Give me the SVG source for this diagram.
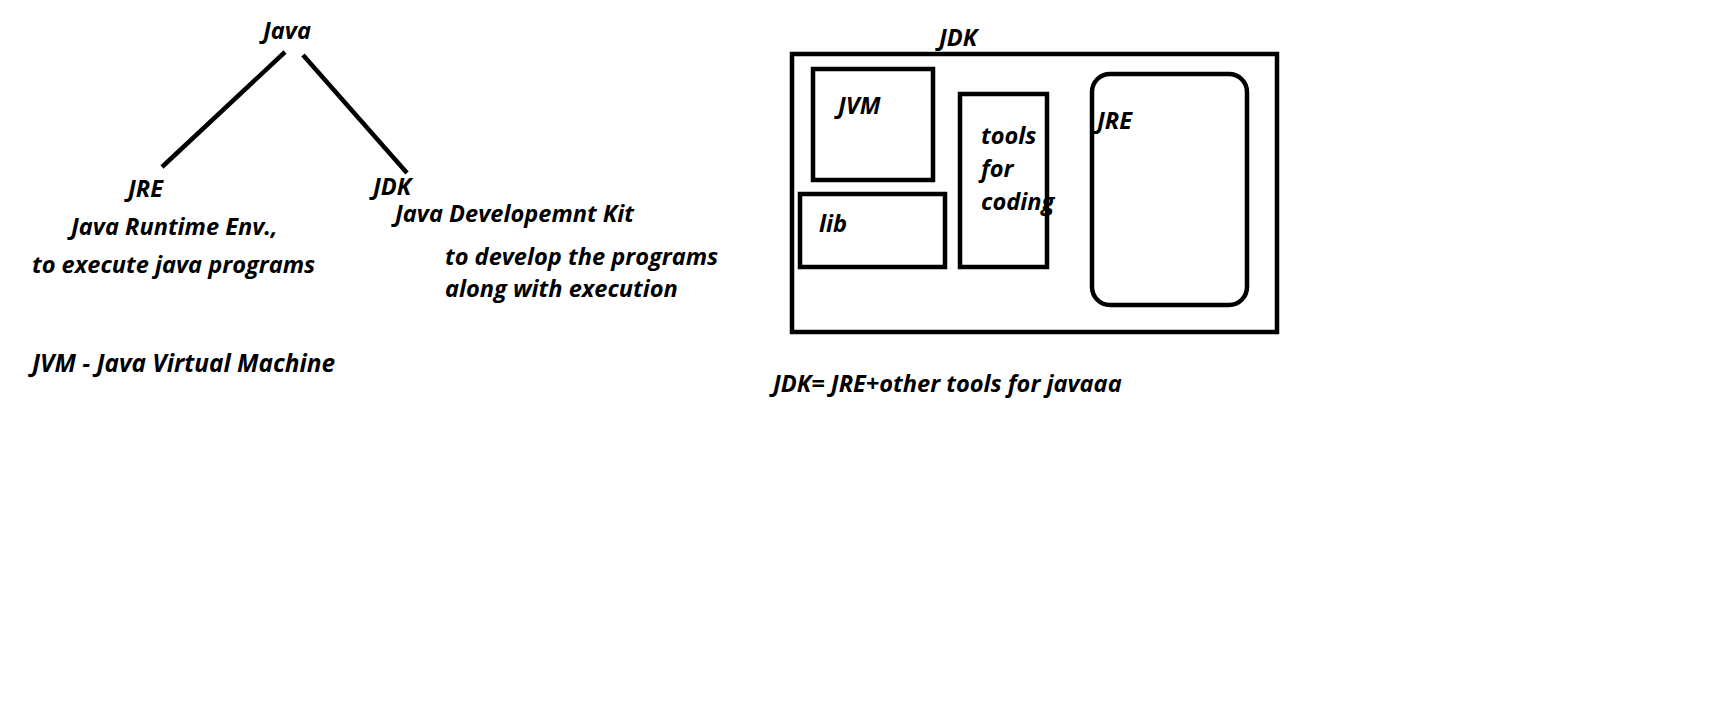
<svg xmlns="http://www.w3.org/2000/svg" width="1732" height="720" viewBox="0 0 1732 720">
<style>
text{font-family:"Open Sans","Noto Sans","DejaVu Sans",sans-serif;font-weight:bold;font-style:italic;font-size:23.6px;fill:#000}
.big{font-size:24.4px}
.box{fill:none;stroke:#000;stroke-width:4.5}
.conn{stroke:#000;stroke-width:4.5;stroke-linecap:butt}
</style>
<rect width="1732" height="720" fill="#fff"/>
<g id="connectors">
<line class="conn" x1="285" y1="52" x2="162" y2="167"/>
<line class="conn" x1="303" y1="55" x2="407" y2="173"/>
</g>
<g id="node-java"><text x="263" y="39">Java</text></g>
<g id="node-jre"><text x="128" y="197">JRE</text>
<text x="71" y="235">Java Runtime Env.,</text>
<text x="32" y="273">to execute java programs</text></g>
<g id="node-jdk"><text x="373" y="195">JDK</text>
<text x="395" y="222">Java Developemnt Kit</text>
<text x="445" y="265">to develop the programs</text>
<text x="445" y="297">along with execution</text></g>
<g id="note-jvm"><text class="big" x="32" y="372">JVM - Java Virtual Machine</text></g>
<g id="jdk-box">
<text x="939" y="46">JDK</text>
<rect class="box" x="792" y="54" width="485" height="278"/>
</g>
<g id="jvm-box"><rect class="box" x="813" y="69" width="120" height="111"/><text x="838" y="114">JVM</text></g>
<g id="lib-box"><rect class="box" x="800" y="194" width="145" height="73"/><text x="819" y="232">lib</text></g>
<g id="tools-box"><rect class="box" x="960" y="94" width="87" height="173"/>
<text x="981" y="144">tools</text><text x="981" y="177">for</text><text x="981" y="210">coding</text></g>
<g id="jre-box"><rect class="box" x="1092" y="74" width="155" height="231" rx="18"/><text x="1097" y="129">JRE</text></g>
<g id="note-jdk"><text x="773" y="392">JDK= JRE+other tools for javaaa</text></g>
</svg>
